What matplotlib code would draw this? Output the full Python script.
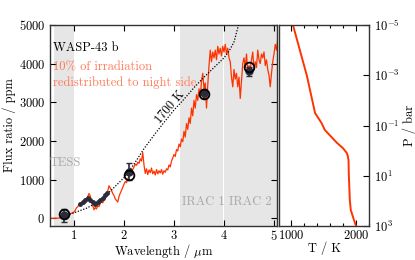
import numpy as np
import matplotlib
matplotlib.use("Agg")
import matplotlib.pyplot as plt
from matplotlib.ticker import FixedLocator, MultipleLocator, NullLocator

plt.rcParams['font.family'] = ['cmr10', 'DejaVu Serif']
plt.rcParams['mathtext.fontset'] = 'cm'
plt.rcParams['axes.formatter.use_mathtext'] = True
plt.rcParams['axes.unicode_minus'] = False

RED = '#ff3300'
DARK = '#2b2b3b'

# model emission spectrum (wavelength in micron, flux ratio in ppm)
spec_wl = [0.50, 0.60, 0.70, 0.75, 0.80, 0.85, 0.90, 0.95,
           1.000, 1.025, 1.050, 1.075, 1.100, 1.125, 1.150, 1.175,
           1.200, 1.225, 1.250, 1.275, 1.300, 1.325, 1.350, 1.375,
           1.400, 1.425, 1.450, 1.475, 1.500, 1.525, 1.550, 1.575,
           1.600, 1.625, 1.650, 1.675, 1.700, 1.725, 1.750, 1.775,
           1.800, 1.825, 1.850, 1.875, 1.900, 1.925, 1.950, 1.975,
           2.000, 2.025, 2.050, 2.075, 2.100, 2.125, 2.150, 2.175,
           2.200, 2.225, 2.250, 2.275, 2.300, 2.325, 2.350, 2.375,
           2.400, 2.425, 2.450, 2.475, 2.500, 2.525, 2.550, 2.575,
           2.600, 2.625, 2.650, 2.675, 2.700, 2.725, 2.750, 2.775,
           2.800, 2.825, 2.850, 2.875, 2.900, 2.925, 2.950, 2.975,
           3.000, 3.025, 3.050, 3.075, 3.100, 3.125, 3.150, 3.175,
           3.200, 3.225, 3.250, 3.275, 3.300, 3.325, 3.350, 3.375,
           3.400, 3.425, 3.450, 3.475, 3.500, 3.525, 3.550, 3.575,
           3.600, 3.625, 3.650, 3.675, 3.700, 3.725, 3.750, 3.775,
           3.800, 3.825, 3.850, 3.875, 3.900, 3.925, 3.950, 3.975,
           4.000, 4.025, 4.050, 4.075, 4.100, 4.125, 4.150, 4.175,
           4.200, 4.225, 4.250, 4.275, 4.300, 4.325, 4.350, 4.375,
           4.400, 4.425, 4.450, 4.475, 4.500, 4.525, 4.550, 4.575,
           4.600, 4.625, 4.650, 4.675, 4.700, 4.725, 4.750, 4.775,
           4.800, 4.825, 4.850, 4.875, 4.900, 4.925, 4.950, 4.975,
           5.000, 5.025, 5.050, 5.075, 5.100]
spec_flux = [0, 0, 5, 25, 55, 85, 105, 130,
             160, 210, 270, 300, 350, 330, 390, 370,
             430, 400, 500, 560, 640, 580, 420, 330,
             220, 280, 240, 330, 300, 390, 430, 400,
             470, 560, 620, 700, 840, 780, 720, 640,
             590, 500, 460, 420, 560, 650, 720, 800,
             880, 950, 920, 1020, 1080, 1130, 1200, 1260,
             1330, 1400, 1370, 1450, 1420, 1540, 1480, 1700,
             1380, 1160, 1280, 1130, 1250, 1180, 1300, 1150,
             1220, 1120, 1260, 1150, 1230, 1170, 1260, 1140,
             1230, 1190, 1280, 1250, 1380, 1330, 1480, 1560,
             1650, 1600, 1780, 1740, 1920, 1850, 2050, 1980,
             2250, 2100, 2450, 2300, 2600, 2450, 2850, 2650,
             3050, 2850, 3200, 3050, 3350, 3150, 3550, 3750,
             3350, 3500, 2850, 3450, 3950, 4350, 4050, 4300,
             4150, 4350, 4100, 4450, 4250, 4400, 4200, 4450,
             4300, 4500, 4250, 4400, 4150, 4050, 3650, 3400,
             3850, 3600, 3750, 3400, 3650, 3100, 3550, 4000,
             4150, 3900, 4250, 3800, 3950, 3850, 4100, 4300,
             3850, 4050, 3900, 4350, 4100, 4000, 4250, 4150,
             4300, 3950, 4100, 3850, 3700, 3400, 3750, 4050,
             4250, 4500, 4350, 4650, 4800]

# 1700 K blackbody comparison
bb_wl = [0.75, 0.8, 1.0, 1.25, 1.5, 1.75, 2.0, 2.2, 2.4, 2.6, 2.8, 3.0,
         3.2, 3.4, 3.6, 3.8, 4.0, 4.1, 4.2, 4.28, 4.32]
bb_flux = [30, 60, 140, 260, 430, 730, 1050, 1400, 1800, 2150, 2480, 2800,
           3080, 3380, 3650, 3900, 4150, 4320, 4560, 4950, 5150]

# observations
obs_wl = [0.8, 2.1, 3.6, 4.5]
obs_flux = [80, 1200, 3230, 3800]
obs_err = [170, 220, 110, 120]

wfc3_wl = [1.12, 1.17, 1.22, 1.27, 1.32, 1.37, 1.42, 1.47, 1.52, 1.57, 1.62, 1.65]
wfc3_flux = [380, 430, 480, 520, 460, 410, 380, 420, 470, 520, 600, 660]
wfc3_err = [40, 40, 40, 40, 40, 40, 40, 40, 40, 40, 40, 40]

# model binned to the photometric bands
band_wl = [0.8, 2.1, 3.6, 4.5]
band_flux = [110, 1110, 3210, 3910]

# pressure-temperature profile
pt_T = [1030, 1245, 1370, 1470, 1520, 1600, 1710, 1800, 1860, 1872, 1885,
        1890, 1905, 1920, 1970, 2000]
pt_P = [1e-5, 1.07e-3, 3.2e-2, 8e-2, 0.15, 0.25, 0.5, 0.8, 1.26, 1.6, 2.4,
        10, 93, 234, 590, 1000]

fig = plt.figure(figsize=(4.15, 2.6), dpi=100)
ax = fig.add_axes([50 / 415, 34 / 260, 227 / 415, 201 / 260])
ax2 = fig.add_axes([279 / 415, 34 / 260, 90 / 415, 201 / 260])

# instrument bands
ax.axvspan(0.6, 1.0, color='#e6e6e6', lw=0, zorder=0)
ax.axvspan(3.12, 3.98, color='#e6e6e6', lw=0, zorder=0)
ax.axvspan(4.0, 5.2, color='#e6e6e6', lw=0, zorder=0)
ax.text(0.52, 1420, 'TESS', color='#a8a8a8', fontsize=9, va='center', ha='left')
ax.text(3.15, 420, 'IRAC 1', color='#a8a8a8', fontsize=9, va='center', ha='left')
ax.text(4.1, 420, 'IRAC 2', color='#a8a8a8', fontsize=9, va='center', ha='left')

ax.plot(spec_wl, spec_flux, color=RED, lw=0.9, zorder=2)
ax.plot(bb_wl, bb_flux, color='k', ls=(0, (1, 1.3)), lw=0.9, zorder=3)
ax.text(2.92, 2880, '1700 K', rotation=50, fontsize=9, ha='center', va='center')

ax.errorbar(wfc3_wl, wfc3_flux, yerr=wfc3_err, fmt='o', ms=2.5, color=DARK,
            elinewidth=1, capsize=0, zorder=4)
ax.errorbar(obs_wl, obs_flux, yerr=obs_err, fmt='o', ms=5, color=DARK,
            elinewidth=1.2, capsize=2, zorder=4)
ax.plot(band_wl, band_flux, 'o', ms=7, mfc='none', mec='k', mew=1.3, zorder=5)

ax.text(0.58, 4400, 'WASP-43 b', fontsize=9, va='center')
ax.text(0.58, 3900, '10% of irradiation', fontsize=9, color='#ff7858', va='center')
ax.text(0.58, 3500, 'redistributed to night side', fontsize=9, color='#ff7858', va='center')

ax.set_xlim(0.52, 5.06)
ax.set_ylim(-200, 5000)
ax.xaxis.set_major_locator(FixedLocator([1, 2, 3, 4, 5]))
ax.yaxis.set_major_locator(FixedLocator([0, 1000, 2000, 3000, 4000, 5000]))
ax.tick_params(direction='in', top=True, right=True, labelsize=9, length=4, width=0.8)
ax.tick_params(axis='x', pad=2.5)
ax.set_xlabel(r'Wavelength / $\mu$m', fontsize=9, labelpad=-1)
ax.set_ylabel('Flux ratio / ppm', fontsize=9, labelpad=2)

ax2.plot(pt_T, pt_P, color=RED, lw=1.4)
ax2.set_yscale('log')
ax2.set_ylim(1000, 1e-5)
ax2.set_xlim(815, 2200)
ax2.yaxis.set_major_locator(FixedLocator([1e-5, 1e-3, 1e-1, 1e1, 1e3]))
ax2.yaxis.set_minor_locator(NullLocator())
ax2.xaxis.set_major_locator(FixedLocator([1000, 2000]))
ax2.xaxis.set_minor_locator(MultipleLocator(200))
ax2.yaxis.tick_right()
ax2.yaxis.set_label_position('right')
ax2.tick_params(which='both', direction='in', top=True, labelsize=9, width=0.8)
ax2.tick_params(which='major', length=4)
ax2.tick_params(which='minor', length=2)
ax2.tick_params(axis='y', left=False, right=True)
ax2.tick_params(axis='x', pad=2.5)
ax2.set_xlabel('T / K', fontsize=9, labelpad=-1)
ax2.set_ylabel('P / bar', fontsize=9, labelpad=2)

for a in (ax, ax2):
    for s in a.spines.values():
        s.set_color('#333333')
        s.set_linewidth(1.0)

fig.savefig('out.png', dpi=100)
